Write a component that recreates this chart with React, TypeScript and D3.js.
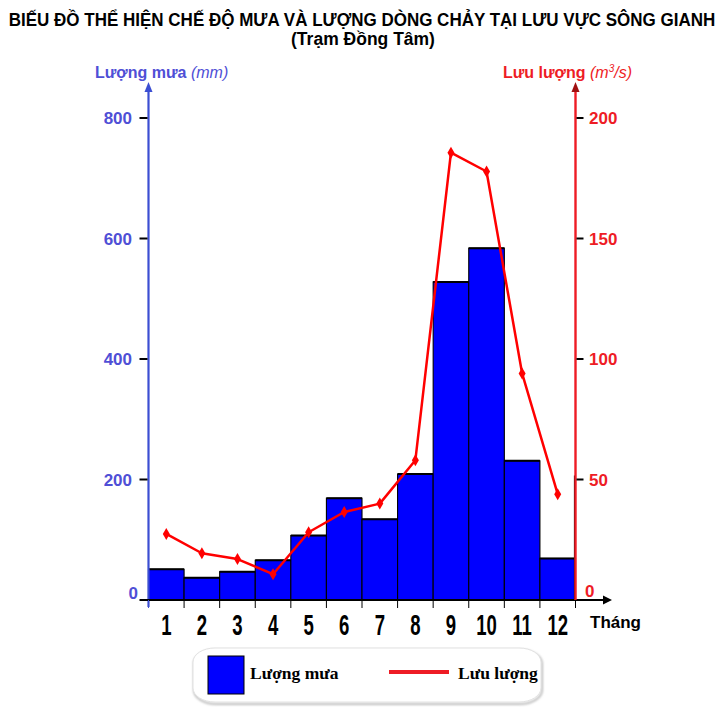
import React, { useLayoutEffect, useRef } from "react";
import * as d3 from "d3";

const months = ["1", "2", "3", "4", "5", "6", "7", "8", "9", "10", "11", "12"];
const rainfall = [51, 37, 47, 66, 107, 169, 134, 209, 528, 584, 231, 69];
const discharge = [27.4, 19.4, 17, 10.7, 28.1, 36.5, 40, 58, 185.6, 177.8, 94, 43.9];
const leftTicks = [0, 200, 400, 600, 800];
const rightTicks = [0, 50, 100, 150, 200];
const titleText = "BIẾU ĐỒ THỂ HIỆN CHẾ ĐỘ MƯA VÀ LƯỢNG DÒNG CHẢY TẠI LƯU VỰC SÔNG GIANH";
const subtitleText = "(Trạm Đồng Tâm)";

const W = 723;
const H = 718;
const X0 = 148.5;
const X1 = 575.5;
const Y0 = 600;
const Y800 = 118;

export default function App() {
  const titleRef = useRef<SVGTextElement>(null);
  useLayoutEffect(() => {
    const el = titleRef.current;
    if (!el) return;
    const w = el.getComputedTextLength();
    const s = w > 0 ? 706 / w : 1;
    el.setAttribute("transform", `translate(362,25.5) scale(${s},1)`);
  }, []);

  const x = d3.scaleBand<string>().domain(months).range([X0, X1]).padding(0);
  const yL = d3.scaleLinear().domain([0, 800]).range([Y0, Y800]);
  const yR = d3.scaleLinear().domain([0, 200]).range([Y0, Y800]);
  const line = d3
    .line<number>()
    .x((_, i) => (x(months[i]) as number) + x.bandwidth() / 2)
    .y((d) => yR(d));
  const boundaries = d3.range(months.length + 1).map((i) => X0 + i * x.bandwidth());
  const sans = "Liberation Sans, Arial, sans-serif";
  const serif = "Liberation Serif, Times New Roman, serif";
  const blue = "#4f4fd6";
  const red = "#ee1c25";

  return (
    <svg width={W} height={H} style={{ position: "absolute", left: 0, top: 0, background: "#fff" }}>
      <defs>
        <filter id="sh" x="-5%" y="-20%" width="110%" height="140%">
          <feGaussianBlur stdDeviation="1.2" />
        </filter>
      </defs>
      {/* Title */}
      <text ref={titleRef} transform="translate(362,25.5) scale(0.8,1)" textAnchor="middle" fontFamily={sans} fontWeight="bold" fontSize={17.5} fill="#000">
        {titleText}
      </text>
      <text x={363} y={45} textAnchor="middle" fontFamily={sans} fontWeight="bold" fontSize={17.5} fill="#000">
        {subtitleText}
      </text>

      {/* Axis titles */}
      <text x={95} y={78} fontFamily={sans} fontSize={16} fill={blue}>
        <tspan fontWeight="bold">Lượng mưa </tspan>
        <tspan fontStyle="italic">(mm)</tspan>
      </text>
      <text x={503} y={78} fontFamily={sans} fontSize={16} fill={red}>
        <tspan fontWeight="bold">Lưu lượng </tspan>
        <tspan fontStyle="italic">(m</tspan>
        <tspan fontStyle="italic" fontSize={10} dy={-6}>3</tspan>
        <tspan fontStyle="italic" dy={6}>/s)</tspan>
      </text>

      {/* Bars */}
      {rainfall.map((v, i) => (
        <rect
          key={i}
          x={x(months[i]) as number}
          y={yL(v)}
          width={x.bandwidth()}
          height={Y0 - yL(v)}
          fill="#0000ff"
          stroke="#000"
          strokeWidth={1.1}
        />
      ))}
      {rainfall.map((v, i) => (
        <line key={"t" + i} x1={x(months[i]) as number} x2={(x(months[i]) as number) + x.bandwidth()} y1={yL(v)} y2={yL(v)} stroke="#000" strokeWidth={2} />
      ))}

      {/* Left axis */}
      <line x1={X0} x2={X0} y1={Y0 + 7} y2={90} stroke="#3b4ed2" strokeWidth={2.2} />
      <path d={`M${X0 - 4},${92} L${X0},${82} L${X0 + 4},${92} Z`} fill="#3b4ed2" />
      {leftTicks.map((t) => (
        <g key={"l" + t}>
          <line x1={X0 - 9} x2={X0 - 1} y1={yL(t)} y2={yL(t)} stroke="#000" strokeWidth={2} />
          <text
            x={t === 0 ? 138 : 132}
            y={t === 0 ? yL(t) - 1 : yL(t) + 6}
            textAnchor="end"
            fontFamily={sans}
            fontWeight="bold"
            fontSize={17}
            fill={blue}
          >
            {t}
          </text>
        </g>
      ))}

      {/* X axis */}
      <line x1={X0 - 2} x2={606} y1={Y0} y2={Y0} stroke="#000" strokeWidth={2.2} />
      <path d={`M${603},${Y0 - 4.5} L${612},${Y0} L${603},${Y0 + 4.5} Z`} fill="#000" />
      {boundaries.map((b, i) => (
        <line key={"b" + i} x1={b} x2={b} y1={Y0} y2={Y0 + 8} stroke={i === 0 ? "#3b4ed2" : "#000"} strokeWidth={1} />
      ))}
      {months.map((m) => (
        <text
          key={"m" + m}
          transform={`translate(${(x(m) as number) + x.bandwidth() / 2},${635}) scale(0.64,1)`}
          textAnchor="middle"
          fontFamily={sans}
          fontWeight="bold"
          fontSize={29}
          fill="#000"
        >
          {m}
        </text>
      ))}
      <text x={590} y={628} fontFamily={sans} fontWeight="bold" fontSize={17} fill="#000">
        Tháng
      </text>

      {/* Right axis */}
      <line x1={X1 - 1} x2={X1 - 1} y1={yR(50) - 4} y2={Y0} stroke="#000" strokeWidth={1.2} />
      <line x1={X1} x2={X1} y1={Y0} y2={90} stroke={red} strokeWidth={2.4} />
      <path d={`M${X1 - 4},${92} L${X1},${82} L${X1 + 4},${92} Z`} fill="#a01010" />
      {rightTicks.map((t) => (
        <g key={"r" + t}>
          {t !== 0 && <line x1={X1 + 1} x2={X1 + 8} y1={yR(t)} y2={yR(t)} stroke="#000" strokeWidth={2} />}
          <text
            x={t === 0 ? 585 : 589}
            y={t === 0 ? yR(t) - 3 : yR(t) + 6}
            textAnchor="start"
            fontFamily={sans}
            fontWeight="bold"
            fontSize={17}
            fill={red}
          >
            {t}
          </text>
        </g>
      ))}

      {/* Discharge line */}
      <path d={line(discharge) as string} fill="none" stroke="#ff0000" strokeWidth={2.5} strokeLinejoin="round" />
      {discharge.map((v, i) => {
        const cx = (x(months[i]) as number) + x.bandwidth() / 2;
        const cy = yR(v);
        return <path key={"p" + i} d={`M${cx},${cy - 6} L${cx + 3.5},${cy} L${cx},${cy + 6} L${cx - 3.5},${cy} Z`} fill="#ff0000" />;
      })}

      {/* Legend */}
      <rect x={194} y={650} width={348} height={54} rx={22} ry={14} fill="none" stroke="#bbb" strokeWidth={2} filter="url(#sh)" />
      <rect x={193} y={648} width={348} height={54} rx={22} ry={14} fill="#fff" stroke="#e2e2e2" strokeWidth={1} />
      <rect x={208} y={656} width={36} height={38} fill="#0000ff" stroke="#000" strokeWidth={1} />
      <text x={250} y={679} fontFamily={serif} fontWeight="bold" fontSize={17.5} fill="#000">
        Lượng mưa
      </text>
      <line x1={389} x2={449} y1={672} y2={672} stroke={red} strokeWidth={4} />
      <text x={458} y={679} fontFamily={serif} fontWeight="bold" fontSize={17.5} fill="#000">
        Lưu lượng
      </text>
    </svg>
  );
}
